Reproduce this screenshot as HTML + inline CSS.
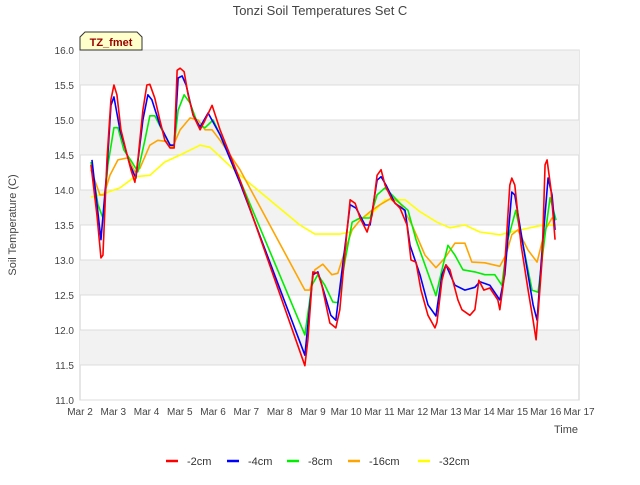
<!DOCTYPE html>
<html><head><meta charset="utf-8"><style>
body{margin:0;background:#fff;font-family:"Liberation Sans",sans-serif}
</style></head><body>
<svg id="c" width="640" height="480" xmlns="http://www.w3.org/2000/svg">
<text x="320" y="15" text-anchor="middle" font-size="13" fill="#444">Tonzi Soil Temperatures Set C</text>
<g id="bands"></g><g id="grid"></g><g id="ticks"></g><g id="series"></g>
<text x="16" y="225" transform="rotate(-90 16 225)" text-anchor="middle" font-size="11" fill="#444">Soil Temperature (C)</text>
<text x="578" y="433" text-anchor="end" font-size="11" fill="#444">Time</text>
<g>
<path d="M80,50 L80,37 L85,32 L137,32 L142,37 L142,50 Z" fill="#ffffcc" stroke="#333"/>
<text x="111" y="46" text-anchor="middle" font-size="11" font-weight="bold" fill="#990000">TZ_fmet</text></g>
<g id="legend"></g>
</svg>
<script>
const xTickLabels=["Mar 2","Mar 3","Mar 4","Mar 5","Mar 6","Mar 7","Mar 8","Mar 9","Mar 10","Mar 11","Mar 12","Mar 13","Mar 14","Mar 15","Mar 16","Mar 17"];
const yTicks=[11.0,11.5,12.0,12.5,13.0,13.5,14.0,14.5,15.0,15.5,16.0];
const seriesNames=["-2cm","-4cm","-8cm","-16cm","-32cm"];
const seriesColors=["#ff0000","#0000ff","#00ee00","#ffa500","#ffff00"];
const s2cm=[[0.33,14.36],[0.51,13.64],[0.63,13.03],[0.69,13.07],[0.81,14.43],[0.93,15.29],[1.02,15.5],[1.11,15.36],[1.23,14.86],[1.38,14.57],[1.53,14.29],[1.65,14.11],[1.74,14.43],[1.89,15.14],[2.01,15.5],[2.10,15.51],[2.25,15.31],[2.40,15.0],[2.55,14.71],[2.71,14.6],[2.83,14.6],[2.92,15.71],[3.01,15.74],[3.13,15.69],[3.25,15.36],[3.40,15.07],[3.61,14.86],[3.73,14.97],[3.97,15.21],[4.21,14.86],[4.81,14.14],[6.76,11.49],[6.85,11.86],[7.00,12.83],[7.15,12.81],[7.27,12.64],[7.51,12.1],[7.69,12.03],[7.81,12.29],[7.97,13.14],[8.12,13.86],[8.27,13.81],[8.42,13.6],[8.63,13.4],[8.78,13.64],[8.93,14.21],[9.05,14.29],[9.17,14.07],[9.38,13.86],[9.62,13.74],[9.83,13.5],[9.95,13.0],[10.1,12.97],[10.25,12.57],[10.46,12.21],[10.67,12.03],[10.73,12.11],[10.88,12.71],[11.0,12.93],[11.12,12.86],[11.36,12.43],[11.48,12.29],[11.72,12.21],[11.87,12.29],[11.99,12.71],[12.14,12.57],[12.32,12.6],[12.56,12.43],[12.62,12.29],[12.74,12.71],[12.92,14.07],[12.98,14.17],[13.07,14.07],[13.26,13.21],[13.47,12.57],[13.62,12.14],[13.71,11.86],[13.89,13.0],[13.98,14.36],[14.04,14.43],[14.16,14.0],[14.28,13.29]];
const s4cm=[[0.36,14.43],[0.63,13.29],[0.81,14.29],[0.93,15.21],[1.02,15.33],[1.20,14.86],[1.50,14.36],[1.68,14.17],[1.89,15.0],[2.04,15.36],[2.16,15.29],[2.40,14.93],[2.71,14.64],[2.83,14.64],[2.95,15.6],[3.07,15.63],[3.19,15.5],[3.40,15.07],[3.61,14.9],[3.85,15.1],[4.21,14.79],[4.81,14.1],[6.76,11.64],[7.00,12.79],[7.15,12.83],[7.36,12.5],[7.54,12.21],[7.69,12.14],[7.97,13.21],[8.12,13.79],[8.30,13.74],[8.57,13.5],[8.72,13.5],[8.93,14.14],[9.05,14.19],[9.20,14.07],[9.47,13.81],[9.77,13.71],[9.92,13.21],[10.22,12.79],[10.46,12.36],[10.70,12.2],[10.88,12.79],[11.0,12.93],[11.27,12.64],[11.57,12.57],[11.87,12.61],[12.02,12.69],[12.32,12.64],[12.62,12.43],[12.77,12.79],[12.98,13.97],[13.07,13.93],[13.32,13.21],[13.62,12.36],[13.74,12.14],[13.89,13.14],[14.07,14.17],[14.19,13.93],[14.28,13.43]];
const s8cm=[[0.33,14.4],[0.54,13.79],[0.69,13.6],[0.84,14.36],[1.02,14.89],[1.14,14.89],[1.32,14.57],[1.56,14.4],[1.74,14.26],[1.95,14.71],[2.10,15.06],[2.25,15.06],[2.46,14.86],[2.71,14.64],[2.83,14.64],[2.95,15.14],[3.13,15.36],[3.31,15.24],[3.55,14.93],[3.76,14.89],[4.0,15.0],[4.21,14.79],[4.81,14.14],[6.76,11.93],[6.97,12.64],[7.15,12.79],[7.36,12.64],[7.6,12.4],[7.75,12.39],[7.97,13.0],[8.18,13.54],[8.42,13.6],[8.72,13.6],[8.93,13.93],[9.17,14.03],[9.38,13.93],[9.62,13.81],[9.86,13.71],[10.1,13.29],[10.37,12.93],[10.7,12.49],[10.88,12.86],[11.06,13.21],[11.27,13.07],[11.51,12.86],[11.87,12.83],[12.17,12.79],[12.47,12.79],[12.68,12.64],[12.86,13.29],[13.1,13.71],[13.35,13.14],[13.59,12.57],[13.77,12.54],[13.98,13.36],[14.13,13.89],[14.31,13.57]];
const s16cm=[[0.33,14.29],[0.6,13.93],[0.72,13.93],[0.9,14.21],[1.14,14.43],[1.44,14.46],[1.65,14.26],[1.8,14.31],[2.10,14.64],[2.34,14.71],[2.65,14.69],[2.77,14.6],[3.01,14.86],[3.31,15.03],[3.55,15.0],[3.76,14.86],[3.97,14.86],[4.21,14.71],[4.81,14.29],[6.76,12.57],[6.91,12.57],[7.06,12.86],[7.3,12.94],[7.57,12.79],[7.75,12.81],[7.97,13.14],[8.18,13.43],[8.42,13.57],[8.72,13.69],[9.02,13.79],[9.38,13.89],[9.62,13.81],[9.98,13.5],[10.37,13.07],[10.7,12.89],[10.97,13.03],[11.27,13.24],[11.57,13.24],[11.78,12.97],[12.17,12.96],[12.62,12.91],[12.8,13.07],[12.98,13.36],[13.16,13.43],[13.47,13.14],[13.74,12.97],[13.98,13.43],[14.19,13.6],[14.31,13.57]];
const s32cm=[[0.33,13.9],[0.6,13.93],[0.84,13.97],[1.2,14.03],[1.65,14.19],[2.1,14.21],[2.55,14.4],[3.01,14.5],[3.61,14.64],[3.91,14.61],[4.81,14.21],[6.61,13.5],[7.06,13.37],[7.81,13.37],[8.12,13.4],[8.42,13.57],[8.87,13.71],[9.17,13.86],[9.77,13.86],[10.22,13.69],[10.73,13.54],[11.12,13.46],[11.57,13.5],[12.02,13.4],[12.62,13.36],[13.23,13.43],[13.83,13.49],[14.31,13.5]];
const allSeries=[s2cm,s4cm,s8cm,s16cm,s32cm];
const X0=80,X1=579,Y0=400,Y1=50;
const xs=d=>X0+d*(X1-X0)/15;
const ys=v=>Y0-(v-11)*(Y0-Y1)/5;
const NS="http://www.w3.org/2000/svg";
function mk(t,p,a){const e=document.createElementNS(NS,t);for(const k in a)e.setAttribute(k,a[k]);p.appendChild(e);return e;}
const bands=document.getElementById('bands'),grid=document.getElementById('grid'),ticks=document.getElementById('ticks'),ser=document.getElementById('series'),leg=document.getElementById('legend');
const bg=mk('rect',bands,{x:X0,y:Y1,width:X1-X0,height:Y0-Y1,fill:'#ffffff',stroke:'#ccc'});


for(let i=0;i<yTicks.length-1;i++){if(i%2===1){const b=mk('rect',bands,{x:X0,y:ys(yTicks[i+1]),width:X1-X0,height:ys(yTicks[i])-ys(yTicks[i+1]),fill:'#f2f2f2'});

}}
yTicks.forEach(v=>{const l=mk('line',grid,{x1:X0,x2:X1,y1:ys(v),y2:ys(v),stroke:'#dcdcdc'});


const t=mk('text',ticks,{x:X0-6,y:ys(v)+4,'text-anchor':'end','font-size':10,fill:'#444'});t.textContent=v.toFixed(1);

});
xTickLabels.forEach((s,i)=>{
const t=mk('text',ticks,{x:xs(i),y:Y0+15,'text-anchor':'middle','font-size':10,fill:'#444'});t.textContent=s;

});
[4,3,2,1,0].forEach(k=>{const p=mk('polyline',ser,{points:allSeries[k].map(d=>xs(d[0])+','+ys(d[1])).join(' '),fill:'none',stroke:seriesColors[k],'stroke-width':1.6,'stroke-linejoin':'round'});

});
const legX=[166,227,287,348,418];
seriesNames.forEach((n,i)=>{const g=mk('g',leg,{});


mk('line',g,{x1:legX[i],x2:legX[i]+12,y1:461,y2:461,stroke:seriesColors[i],'stroke-width':2.5});
const t=mk('text',g,{x:legX[i]+21,y:465,'font-size':11,fill:'#333'});t.textContent=n;});
</script>
</body></html>
